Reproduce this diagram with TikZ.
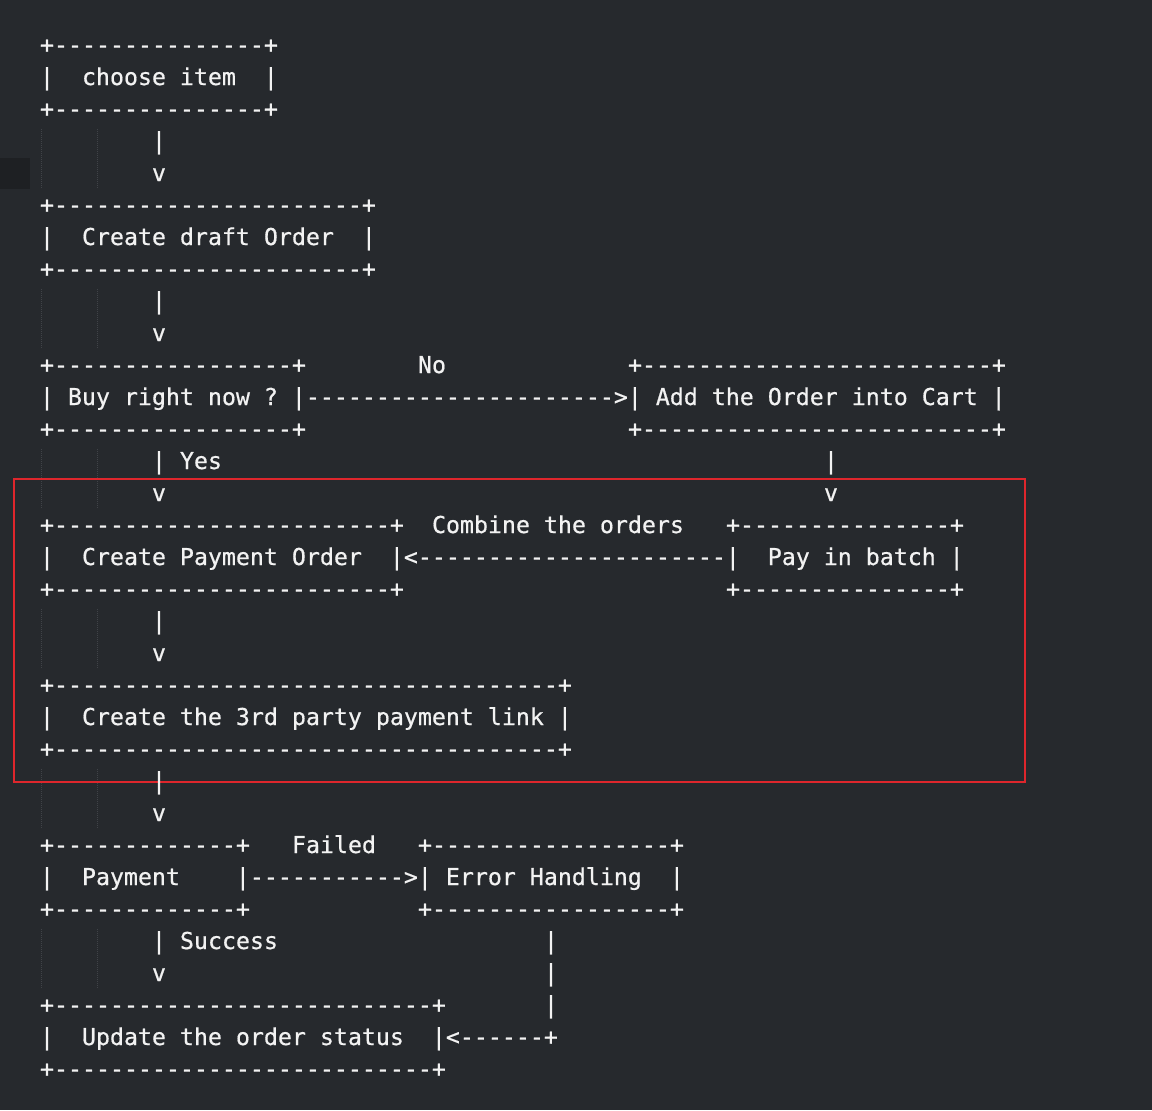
\documentclass[tikz,border=0pt]{standalone}
\usepackage{fontspec}
\setmonofont{DejaVu Sans Mono}[FakeBold=0.6]
\definecolor{editorbg}{RGB}{38,41,45}
\definecolor{gutterbg}{RGB}{30,32,35}
\definecolor{asciitext}{RGB}{242,242,242}
\definecolor{guide}{RGB}{64,67,72}
\definecolor{markred}{RGB}{222,38,44}
\ExplSyntaxOn
\newcommand{\asciirule}[1]{\prg_replicate:nn{#1}{-}}
\ExplSyntaxOff
\tikzset{
  ascii/.style={anchor=base west, inner sep=0pt, outer sep=0pt, text=asciitext,
    font=\ttfamily\fontsize{11.625pt}{16pt}\selectfont},
  indent/.style={draw=guide, line width=0.5pt, dash pattern=on 0.5pt off 0.5pt}
}

\begin{document}
\begin{tikzpicture}[x=0.5pt, y=-0.5pt]
                \fill[editorbg] (0,0) rectangle (1152,1110);
                \useasboundingbox (0,0) rectangle (1152,1110);
                \fill[gutterbg] (0,158) rectangle (30,189);
                \foreach \top in {127,287,447,607,767,927} {
                  \draw[indent] (41,{\top+2}) -- ++(0,60);
                  \draw[indent] (97,{\top+2}) -- ++(0,60);
                }
                \draw[markred, line width=1.3pt] (14,479) rectangle (1025,782);
                % choose item
                \node[ascii] (r0) at (40,53) {+\asciirule{15}+};
                \node[ascii] (r1) at (40,85) {|~~choose~item~~|};
                \node[ascii] (r2) at (40,117) {+\asciirule{15}+};
                \node[ascii] (r3) at (152,149) {|};
                \node[ascii] (r4) at (152,181) {v};
                % draft order
                \node[ascii] (r5) at (40,213) {+\asciirule{22}+};
                \node[ascii] (r6) at (40,245) {|~~Create~draft~Order~~|};
                \node[ascii] (r7) at (40,277) {+\asciirule{22}+};
                \node[ascii] (r8) at (152,309) {|};
                \node[ascii] (r9) at (152,341) {v};
                % buy now / cart
                \node[ascii] (r10a) at (40,373) {+\asciirule{17}+};
                \node[ascii] (r10b) at (418,373) {No};
                \node[ascii] (r10c) at (628,373) {+\asciirule{25}+};
                \node[ascii] (r11) at (40,405) {|~Buy~right~now~?~|\asciirule{22}>|~Add~the~Order~into~Cart~|};
                \node[ascii] (r12a) at (40,437) {+\asciirule{17}+};
                \node[ascii] (r12c) at (628,437) {+\asciirule{25}+};
                \node[ascii] (r13a) at (152,469) {|~Yes};
                \node[ascii] (r13c) at (824,469) {|};
                \node[ascii] (r14a) at (152,501) {v};
                \node[ascii] (r14c) at (824,501) {v};
                % payment order / batch
                \node[ascii] (r15a) at (40,533) {+\asciirule{24}+};
                \node[ascii] (r15b) at (432,533) {Combine~the~orders};
                \node[ascii] (r15c) at (726,533) {+\asciirule{15}+};
                \node[ascii] (r16) at (40,565) {|~~Create~Payment~Order~~|<\asciirule{22}|~~Pay~in~batch~|};
                \node[ascii] (r17a) at (40,597) {+\asciirule{24}+};
                \node[ascii] (r17c) at (726,597) {+\asciirule{15}+};
                \node[ascii] (r18) at (152,629) {|};
                \node[ascii] (r19) at (152,661) {v};
                % payment link
                \node[ascii] (r20) at (40,693) {+\asciirule{36}+};
                \node[ascii] (r21) at (40,725) {|~~Create~the~3rd~party~payment~link~|};
                \node[ascii] (r22) at (40,757) {+\asciirule{36}+};
                \node[ascii] (r23) at (152,789) {|};
                \node[ascii] (r24) at (152,821) {v};
                % payment / errors
                \node[ascii] (r25a) at (40,853) {+\asciirule{13}+};
                \node[ascii] (r25b) at (292,853) {Failed};
                \node[ascii] (r25c) at (418,853) {+\asciirule{17}+};
                \node[ascii] (r26) at (40,885) {|~~Payment~~~~|\asciirule{11}>|~Error~Handling~~|};
                \node[ascii] (r27a) at (40,917) {+\asciirule{13}+};
                \node[ascii] (r27c) at (418,917) {+\asciirule{17}+};
                \node[ascii] (r28a) at (152,949) {|~Success};
                \node[ascii] (r28c) at (544,949) {|};
                \node[ascii] (r29a) at (152,981) {v};
                \node[ascii] (r29c) at (544,981) {|};
                % order status
                \node[ascii] (r30a) at (40,1013) {+\asciirule{27}+};
                \node[ascii] (r30c) at (544,1013) {|};
                \node[ascii] (r31) at (40,1045) {|~~Update~the~order~status~~|<\asciirule{6}+};
                \node[ascii] (r32) at (40,1077) {+\asciirule{27}+};
                \end{tikzpicture}
\end{document}
